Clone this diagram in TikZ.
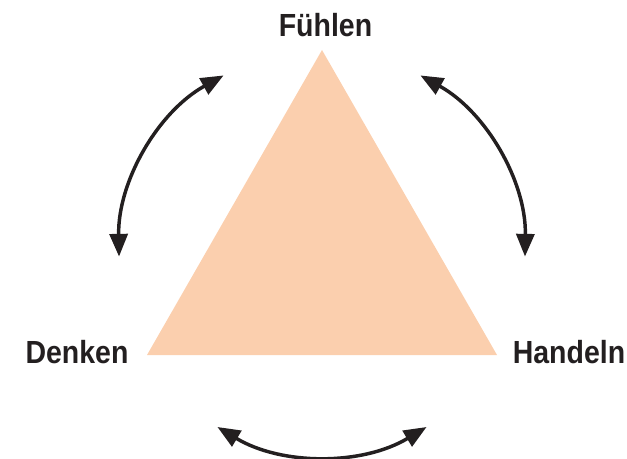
\documentclass[tikz,border=0pt]{standalone}
\usepackage{fontspec}
\setmainfont{Liberation Sans}
\newfontfamily\labelfont[FakeStretch=0.89]{Liberation Sans}
\usetikzlibrary{arrows.meta}
\definecolor{peach}{RGB}{251,207,174}
\definecolor{inkblack}{RGB}{35,31,32}
\begin{document}
\begin{tikzpicture}[x=0.75pt,y=0.75pt]
  \tikzset{
    corner/.style={inkblack,anchor=base,font=\labelfont\bfseries\fontsize{24}{28}\selectfont},
    swap/.style={draw=inkblack,line width=2.6pt,
      {Triangle[length=17pt,width=13.5pt]}-{Triangle[length=17pt,width=13.5pt]}},
  }
  \useasboundingbox (0,0) rectangle (627,458);
  \fill[peach] (322,408) -- (497,103) -- (147,103) -- cycle;
  \coordinate (mid) at (322,205);
  \node[corner] (fuehlen) at (325.5,421) {Fühlen};
  \node[corner] (denken) at (77,95) {Denken};
  \node[corner] (handeln) at (569,95) {Handeln};
  % arcs round the triangle
  \foreach \a in {30,150,270}{
    \draw[swap] ([shift={(\a-31:203)}]mid) arc[start angle=\a-31,end angle=\a+31,radius=203];
  }
\end{tikzpicture}
\end{document}
